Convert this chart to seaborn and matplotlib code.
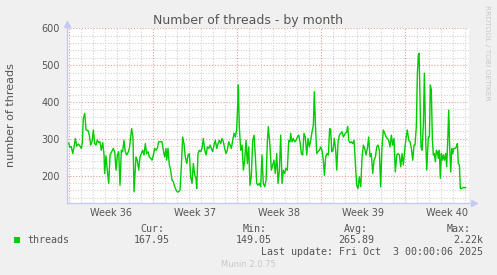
import matplotlib
matplotlib.use("Agg")
import matplotlib.pyplot as plt
import matplotlib.transforms as mtransforms
from matplotlib.patches import Rectangle
import seaborn as sns
import pandas as pd
import numpy as np

# ---------------- data ----------------
# time in days since Monday 2025-09-01 00:00 (start of Week 36)
days = [-0.14, -0.03, 0.08, 0.19, 0.31, 0.42, 0.53, 0.64, 0.78, 0.92,
        1.03, 1.11, 1.19, 1.31, 1.42, 1.58, 1.69, 1.81, 1.92, 2.03,
        2.14, 2.25, 2.36, 2.47, 2.58, 2.69, 2.81, 2.92, 2.97, 3.08,
        3.19, 3.31, 3.42, 3.56, 3.69, 3.81, 3.92, 4.03, 4.14, 4.25,
        4.36, 4.47, 4.58, 4.69, 4.81, 4.92, 5.03, 5.14, 5.22, 5.33,
        5.42,
        5.58, 5.69, 5.81, 5.92, 6.03, 6.14, 6.25, 6.36, 6.47, 6.58,
        6.69, 6.81, 6.92, 7.03, 7.14, 7.25, 7.36, 7.47, 7.64, 7.75,
        7.86, 7.97, 8.08, 8.14, 8.25, 8.36, 8.47, 8.58, 8.69, 8.81,
        8.92, 9.03, 9.14, 9.25, 9.36, 9.47, 9.58, 9.69, 9.81, 9.92,
        10.03, 10.14, 10.25, 10.36, 10.47, 10.58, 10.64, 10.75, 10.86, 10.97,
        11.08, 11.19,
        11.31, 11.42, 11.53, 11.64, 11.75, 11.86, 11.97, 12.08, 12.19, 12.31,
        12.42, 12.53, 12.64, 12.75, 12.86, 12.97, 13.08, 13.19, 13.31, 13.42,
        13.53, 13.64, 13.75, 13.86, 13.97, 14.06, 14.11, 14.19, 14.31, 14.42,
        14.53, 14.64, 14.75, 14.86, 14.97, 15.08, 15.19, 15.31, 15.42, 15.53,
        15.64, 15.75, 15.86, 15.97, 16.08, 16.19, 16.31, 16.42, 16.53, 16.61,
        16.75, 16.86,
        17.08, 17.19, 17.31, 17.42, 17.53, 17.64, 17.75, 17.86, 17.97, 18.08,
        18.19, 18.31, 18.42, 18.47, 18.58, 18.69, 18.81, 18.92, 19.03, 19.14,
        19.25, 19.36, 19.47, 19.58, 19.69, 19.81, 19.92, 20.03, 20.14, 20.25,
        20.36, 20.44, 20.53, 20.64, 20.75, 20.86, 20.97, 21.08, 21.19, 21.28,
        21.39, 21.5, 21.61, 21.72, 21.81, 21.89, 22.0, 22.11, 22.22, 22.31,
        22.42, 22.53, 22.64, 22.75, 22.86,
        23.03, 23.14, 23.22, 23.31, 23.42, 23.53, 23.64, 23.75, 23.86, 23.97,
        24.08, 24.19, 24.31, 24.42, 24.53, 24.64, 24.75, 24.86, 24.97, 25.08,
        25.19, 25.31, 25.42, 25.53, 25.64, 25.75, 25.86, 25.97, 26.08, 26.19,
        26.31, 26.42, 26.53, 26.64, 26.75, 26.86, 26.97, 27.08, 27.19, 27.31,
        27.42, 27.53, 27.64, 27.75, 27.86, 27.97, 28.08, 28.19, 28.31, 28.42,
        28.53, 28.64, 28.75,
        28.83, 28.94, 29.03, 29.11, 29.17, 29.25, 29.33, 29.42, 29.53, 29.61,
        29.72, 29.81, 29.89, 29.94, 30.03, 30.11, 30.19, 30.28, 30.36, 30.44,
        30.53, 30.61, 30.69, 30.78, 30.86, 30.94, 31.03, 31.11, 31.19, 31.28,
        31.39, 31.47, 31.56, 31.64, 31.72, 31.81, 31.89, 31.97, 32.06, 32.17,
        32.28, 32.36, 32.44, 32.53, 32.61, 32.72, 32.83, 32.94, 33.06]

threads = [285, 289, 277, 279, 260, 278, 301, 280, 286, 280,
           274, 290, 355, 369, 324, 323, 310, 283, 292, 324,
           287, 283, 297, 290, 292, 269, 290, 256, 206, 254,
           215, 179, 256, 265, 274, 265, 215, 256, 265, 174,
           269, 265, 296, 265, 256, 263, 274, 305, 328, 305,
           156,
           251, 242, 215, 251, 260, 269, 256, 287, 260, 265,
           251, 247, 242, 256, 274, 269, 274, 292, 292, 292,
           269, 251, 274, 242, 274, 229, 215, 188, 184, 170,
           161, 156, 156, 161, 224, 305, 287, 251, 233, 256,
           260, 197, 179, 233, 202, 193, 165, 260, 269, 265,
           274, 301,
           270, 256, 278, 274, 283, 274, 265, 283, 296, 274,
           287, 296, 287, 301, 292, 274, 260, 269, 292, 283,
           274, 296, 315, 305, 324, 396, 446, 333, 269, 283,
           215, 242, 296, 233, 278, 174, 197, 296, 310, 251,
           179, 174, 179, 170, 256, 179, 170, 188, 296, 333,
           278, 215,
           242, 206, 260, 179, 215, 310, 179, 215, 206, 220,
           215, 296, 292, 315, 292, 301, 292, 296, 305, 310,
           292, 260, 256, 315, 305, 256, 301, 278, 296, 319,
           337, 428, 342, 260, 265, 269, 278, 269, 242, 201,
           251, 260, 256, 328, 324, 265, 269, 301, 269, 215,
           292, 310, 315, 319, 305,
           315, 319, 334, 296, 289, 292, 287, 296, 233, 174,
           165, 197, 170, 251, 283, 274, 256, 274, 305, 251,
           260, 206, 242, 251, 278, 283, 269, 170, 278, 324,
           315, 305, 301, 296, 278, 310, 283, 301, 210, 256,
           260, 256, 224, 260, 229, 269, 301, 324, 296, 292,
           274, 242, 283,
           283, 333, 478, 527, 532, 405, 278, 269, 342, 478,
           296, 215, 269, 305, 305, 446, 433, 296, 256, 260,
           238, 269, 265, 247, 269, 193, 260, 242, 256, 242,
           260, 224, 296, 378, 278, 210, 274, 260, 274, 274,
           278, 287, 233, 229, 165, 165, 168, 167, 168]

week_starts = [0, 7, 14, 21, 28]
week_labels = ["Week 36", "Week 37", "Week 38", "Week 39", "Week 40"]
y_major = [200, 300, 400, 500, 600]

series_name = "threads"
stat_headers = ["Cur:", "Min:", "Avg:", "Max:"]
stat_values = ["167.95", "149.05", "265.89", "2.22k"]
title = "Number of threads - by month"
ylabel = "number of threads"
last_update = "Last update: Fri Oct  3 00:00:06 2025"
footer = "Munin 2.0.75"
side_text = "RRDTOOL / TOBI OETIKER"

# ---------------- style ----------------
W, H = 497, 275
BG = "#F0F0F0"
TXT = "#555555"
GREEN = "#00CC00"
AXC = "#C4CAF2"
MINOR_GRID = "#CFCFCF"
MAJOR_GRID = "#E4A0A0"

sns.set_theme(style="white")
plt.rcParams["font.family"] = ["DejaVu Sans"]

fig = plt.figure(figsize=(W / 100, H / 100), dpi=100, facecolor=BG)

def fx(px):
    return px / W

def fy(py):
    return 1 - py / H

left, right, top, bottom = 67, 469, 28.3, 203.3
ax = fig.add_axes([fx(left), fy(bottom), (right - left) / W, (bottom - top) / H])
ax.set_facecolor("white")

df = pd.DataFrame({"day": days, "threads": threads})
sns.lineplot(data=df, x="day", y="threads", color=GREEN, linewidth=1.0, ax=ax)

ax.set_xlim(-0.167, 33.33)
ax.set_ylim(125, 600)

# grid
minor_x = [d for d in range(0, 34) if d % 7 != 0]
minor_y = [v for v in range(140, 600, 20) if v % 100 != 0]
ax.set_xticks(week_starts)
ax.set_xticks(minor_x, minor=True)
ax.set_yticks(y_major)
ax.set_yticks(minor_y, minor=True)
ax.set_xticklabels([""] * len(week_starts))
ax.grid(which="minor", color=MINOR_GRID, linestyle=(0, (1, 1.6)), linewidth=0.75)
ax.grid(which="major", color=MAJOR_GRID, linestyle=(0, (1, 1.6)), linewidth=0.8)
ax.set_axisbelow(True)

ax.tick_params(axis="y", which="both", length=2.5, width=0.6, color=AXC,
               labelsize=7, labelcolor=TXT, pad=2.5, direction="out")
ax.tick_params(axis="x", which="major", length=2.5, width=0.8, color=MAJOR_GRID)
ax.tick_params(axis="x", which="minor", length=2, width=0.6, color=MINOR_GRID)

for s in ["top", "right"]:
    ax.spines[s].set_visible(False)
for s in ["left", "bottom"]:
    ax.spines[s].set_color(AXC)
    ax.spines[s].set_linewidth(1.0)
ax.set_xlabel("")
ax.set_ylabel("")

# axis arrows
ax.plot([0], [1.025], marker="^", color=AXC, markersize=4, transform=ax.transAxes, clip_on=False)
ax.plot([1.012], [0], marker=">", color=AXC, markersize=4, transform=ax.transAxes, clip_on=False)

# week labels centred in each week
trans = mtransforms.blended_transform_factory(ax.transData, fig.transFigure)
for ws, lab in zip(week_starts, week_labels):
    ax.text(ws + 3.5, fy(216), lab, transform=trans, ha="center", va="baseline",
            fontsize=7, color=TXT)

# titles
fig.text(fx(248), fy(24), title, ha="center", va="baseline", fontsize=9, color=TXT)
fig.text(fx(11), fy(115), ylabel, ha="center", va="center", rotation=90, fontsize=8, color=TXT)
fig.text(fx(487), fy(5), side_text, ha="center", va="top", rotation=270, fontsize=5.4, color="#C8C8C8")

# legend
mono = "DejaVu Sans Mono"
fig.patches.append(Rectangle((fx(14), fy(242.5)), 6 / W, 5.5 / H, transform=fig.transFigure,
                             facecolor=GREEN, edgecolor="none"))
fig.text(fx(27), fy(243.3), series_name, family=mono, fontsize=7.2, color=TXT, va="baseline")
hdr_x = [140.7, 243, 344, 447]
val_right = [170, 272, 374, 483]
for hx, h in zip(hdr_x, stat_headers):
    fig.text(fx(hx), fy(231.7), h, family=mono, fontsize=7.2, color=TXT, va="baseline")
for vx, v in zip(val_right, stat_values):
    fig.text(fx(vx), fy(243.3), v, family=mono, fontsize=7.2, color=TXT, va="baseline", ha="right")
fig.text(fx(483), fy(255), last_update, family=mono, fontsize=7.2, color=TXT, va="baseline", ha="right")
fig.text(fx(248), fy(267), footer, fontsize=6, color="#C8C8C8", ha="center", va="baseline")

fig.savefig("out.png", dpi=100, facecolor=BG)
